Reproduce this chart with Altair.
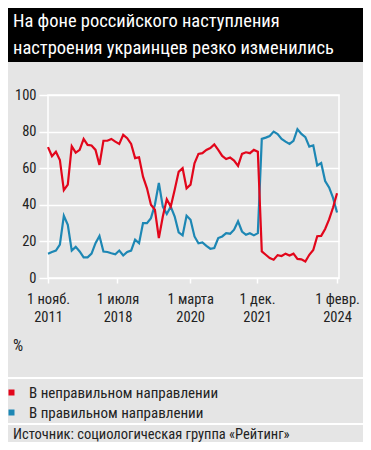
import json
import altair as alt
import pandas as pd

# ---------------- data ----------------
title_lines = ["На фоне российского наступления", "настроения украинцев резко изменились"]
series_names = ["В неправильном направлении", "В правильном направлении"]

wrong = [
    71.5, 66.5, 69, 64.5, 48, 51, 72, 68.5, 70, 76, 72.7, 72.4, 70, 61.8, 75, 75, 76,
    74.5, 73.3, 78.2, 76.4, 73.3, 65.5, 66, 55.4, 49, 40, 37.3, 21.8, 33.6, 43, 39, 48.2, 58,
    60, 49, 51, 62.7, 67.8, 68.2, 70, 71, 73, 70, 66.7, 65, 65.8, 64.2, 61.3, 67.8, 68.7, 68.2,
    70, 69,
    14.5, 12.7, 10.9, 10, 12.5, 12, 13.3, 12.3, 13.3, 10.4, 10.2, 9, 12.7, 15.3, 22.8, 23, 26.8, 32, 38.5, 46.3,
]
right = [
    13.3, 14.2, 15, 18.2, 34, 29, 15, 17, 14.5, 11.3, 11.3, 13.3, 19, 23, 14.5, 14.2, 13.5,
    13, 15, 12.3, 14.2, 15, 21, 19, 30, 30, 32.7, 40, 52, 39, 35, 39, 33.6, 25,
    23.3, 34, 31.8, 22.7, 19, 19.4, 17.6, 16, 16.4, 21.8, 22.7, 24.5, 24.2, 26.4, 31, 25.4, 23.6, 24.5,
    23.3, 24.5,
    76, 76.7, 77.6, 80, 78.7, 76, 74.5, 73.3, 75, 81.3, 78.7, 77, 71.8, 72.5, 61.5, 62.8, 53, 49.5, 43.8, 35.8,
]

tick_pos = [0, 17.55, 35.9, 52.8, 73]
tick_line1 = ["1 нояб.", "1 июля", "1 марта", "1 дек.", "1 февр."]
tick_line2 = ["2011", "2018", "2020", "2021", "2024"]
y_ticks = [0, 20, 40, 60, 80, 100]
unit_label = "%"
source_text = "Источник: социологическая группа «Рейтинг»"
colors = ["#e2061b", "#1d87b4"]

rows = []
for i, (a, b) in enumerate(zip(wrong, right)):
    rows.append({"i": i, "v": a, "s": series_names[0]})
    rows.append({"i": i, "v": b, "s": series_names[1]})
df = pd.DataFrame(rows)

# ---------------- layout ----------------
FONT = "Roboto Condensed"
W, H = 291, 183
PAD_L, PAD_T, PAD_R, PAD_B = 40, 87, 24, 164
BG = "#e5e5e5"
TXT = "#222222"

one = pd.DataFrame({"k": [0]})

def jd(x):
    return json.dumps(x, ensure_ascii=False)

label_expr = (
    f"indexof({jd(tick_pos)}, datum.value) >= 0 ? "
    f"[{jd(tick_line1)}[indexof({jd(tick_pos)}, datum.value)], "
    f"{jd(tick_line2)}[indexof({jd(tick_pos)}, datum.value)]] : ''"
)

header = alt.Chart(one).mark_rect(color="black").encode(
    x=alt.value(-PAD_L), x2=alt.value(W + PAD_R),
    y=alt.value(-PAD_T), y2=alt.value(62 - 8 - PAD_T),
)

title = alt.Chart(pd.DataFrame({"t": ["\n".join(title_lines)]})).mark_text(
    align="left", baseline="alphabetic", font=FONT, fontSize=18.5, fontWeight=400,
    color="white", lineBreak="\n", lineHeight=26.5,
).encode(x=alt.value(-35), y=alt.value(27 - 95), text="t:N")

sep1 = alt.Chart(one).mark_rule(color="white", strokeWidth=2).encode(
    x=alt.value(-PAD_L), x2=alt.value(W + PAD_R), y=alt.value(378 - 95)
)
sep2 = alt.Chart(one).mark_rule(color="white", strokeWidth=2).encode(
    x=alt.value(-PAD_L), x2=alt.value(W + PAD_R), y=alt.value(424 - 95)
)

unit = alt.Chart(pd.DataFrame({"t": [unit_label]})).mark_text(
    align="left", baseline="alphabetic", font=FONT, fontSize=16, color=TXT
).encode(x=alt.value(-35), y=alt.value(351 - 95), text="t:N")

source = alt.Chart(pd.DataFrame({"t": [source_text]})).mark_text(
    align="left", baseline="alphabetic", font=FONT, fontSize=14.5, color=TXT
).encode(x=alt.value(-35), y=alt.value(439 - 95), text="t:N")

x_enc = alt.X("i:Q", scale=alt.Scale(domain=[0, 73.5], nice=False, zero=False),
              axis=alt.Axis(values=tick_pos, labelExpr=label_expr, title=None, grid=False,
                            domain=False, tickColor="white", tickSize=5, tickWidth=1.5,
                            labelFont=FONT, labelFontSize=14.5, labelColor=TXT, labelPadding=9,
                            labelLineHeight=18, labelFlush=False, labelOverlap=False))
y_enc = alt.Y("v:Q", scale=alt.Scale(domain=[0, 100], nice=False),
              axis=alt.Axis(values=y_ticks, title=None, grid=True, gridColor="white",
                            gridWidth=1.5, domain=False, tickColor="white", tickSize=9,
                            tickWidth=1.5, labelFont=FONT, labelFontSize=14.5, labelColor=TXT,
                            labelPadding=3))

line_layers = []
for name, col in zip(series_names, colors):
    line_layers.append(
        alt.Chart(df).transform_filter(alt.datum.s == name)
        .mark_line(strokeWidth=2.2, color=col)
        .encode(x=x_enc, y=y_enc)
    )

legend_layer = alt.Chart(df).transform_filter("false").mark_square(filled=True, opacity=1).encode(
    color=alt.Color("s:N", scale=alt.Scale(domain=series_names, range=colors),
                    legend=alt.Legend(orient="none", legendX=-44, legendY=290, title=None,
                                      symbolType="square", symbolSize=36, labelOffset=10,
                                      rowPadding=4, padding=0, symbolStrokeWidth=0,
                                      symbolOpacity=1, labelLimit=300,
                                      labelFont=FONT, labelFontSize=15, labelColor=TXT)),
)

chart = alt.layer(header, sep1, sep2, title, unit, source, line_layers[1], line_layers[0],
                  legend_layer).properties(
    width=W, height=H,
    padding={"left": PAD_L, "top": PAD_T, "right": PAD_R, "bottom": PAD_B},
    autosize=alt.AutoSizeParams(type="none"),
    background=BG,
).configure_view(stroke="white", strokeWidth=1.5)

chart.save("out.html", embed_options={"renderer": "svg", "actions": False})
